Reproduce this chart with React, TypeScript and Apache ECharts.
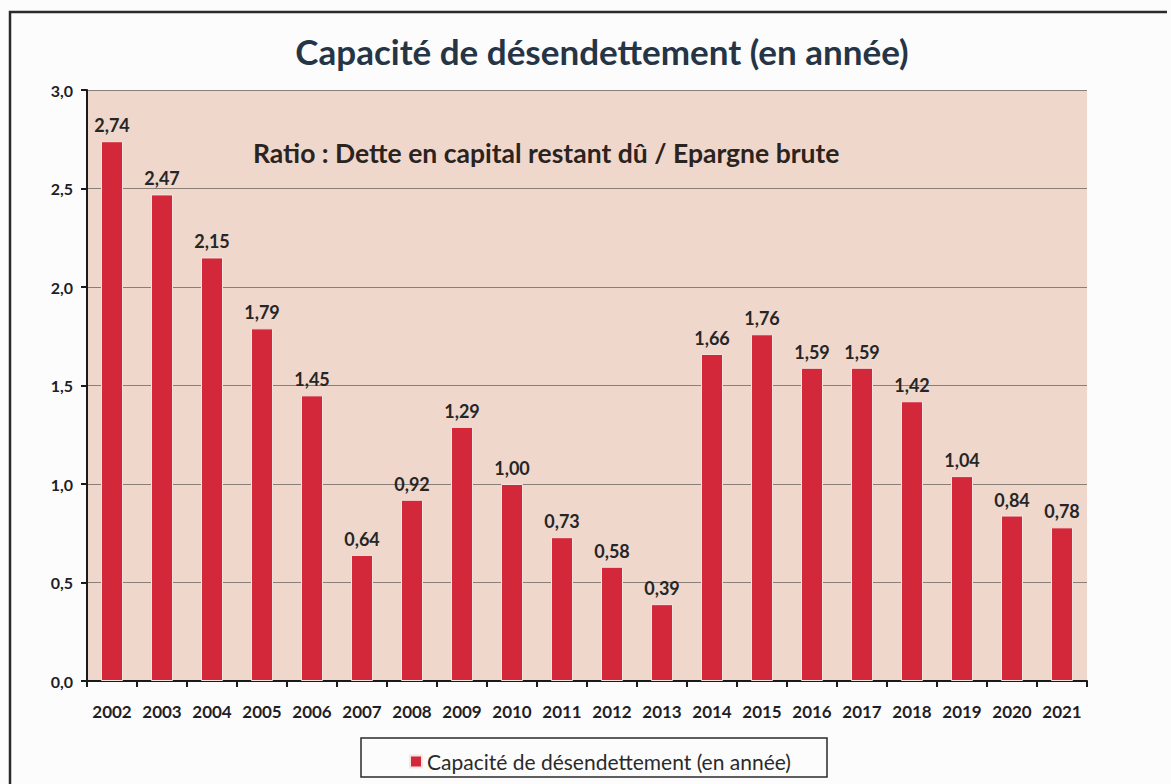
import React, { useEffect, useRef } from "react";
import * as echarts from "echarts";

const years = ["2002","2003","2004","2005","2006","2007","2008","2009","2010","2011","2012","2013","2014","2015","2016","2017","2018","2019","2020","2021"];
const ratios = [2.74, 2.47, 2.15, 1.79, 1.45, 0.64, 0.92, 1.29, 1.0, 0.73, 0.58, 0.39, 1.66, 1.76, 1.59, 1.59, 1.42, 1.04, 0.84, 0.78];
const seriesName = "Capacité de désendettement (en année)";
const titleText = "Capacité de désendettement (en année)";
const subtitleText = "Ratio : Dette en capital restant dû / Epargne brute";

const FONT = "Lato, 'Open Sans', sans-serif";

export default function App() {
  const ref = useRef<HTMLDivElement>(null);
  useEffect(() => {
    const chart = echarts.init(ref.current!, null, { renderer: "svg" });
    chart.setOption({
      animation: false,
      backgroundColor: "#fcfcfd",
      textStyle: { fontFamily: FONT },
      title: {
        text: titleText,
        left: 597,
        top: 28,
        textAlign: "center",
        textStyle: { fontFamily: FONT, fontSize: 35, fontWeight: "bold", color: "#263545" },
      },
      grid: {
        left: 87,
        right: 84,
        top: 90,
        bottom: 103,
        show: true,
        backgroundColor: "#efd7cc",
        borderWidth: 0,
      },
      legend: {
        data: [seriesName],
        left: 404,
        top: 746,
        icon: "rect",
        itemWidth: 12,
        itemHeight: 12,
        itemGap: 6,
        textStyle: { fontFamily: FONT, fontSize: 21, color: "#2a2a2a" },
      },
      xAxis: {
        type: "category",
        data: years,
        axisLine: { show: true, lineStyle: { color: "#1a1a1a", width: 2 } },
        axisTick: { show: true, length: 6, lineStyle: { color: "#1a1a1a", width: 2 } },
        axisLabel: {
          margin: 22,
          fontFamily: FONT,
          fontSize: 17,
          fontWeight: "bold",
          color: "#1e1e28",
          interval: 0,
        },
      },
      yAxis: {
        type: "value",
        min: 0,
        max: 3,
        interval: 0.5,
        axisLine: { show: true, lineStyle: { color: "#1a1a1a", width: 2 } },
        axisTick: { show: true, length: 6, lineStyle: { color: "#1a1a1a", width: 2 } },
        axisLabel: {
          margin: 14,
          fontFamily: FONT,
          fontSize: 16,
          fontWeight: "bold",
          color: "#1e1e28",
          formatter: (v: number) => v.toFixed(1).replace(".", ","),
        },
        splitLine: { show: true, lineStyle: { color: "#8a7e78", width: 1 } },
      },
      series: [
        {
          name: seriesName,
          type: "bar",
          data: ratios,
          barWidth: 22,
          itemStyle: { color: "#d3283a", borderColor: "#f6e4e0", borderWidth: 1 },
          label: {
            show: true,
            position: "top",
            distance: 7,
            fontFamily: FONT,
            fontSize: 18,
            fontWeight: "bold",
            color: "#262626",
            formatter: (p: any) => Number(p.value).toFixed(2).replace(".", ","),
          },
        },
      ],
      graphic: [
        {
          type: "polyline",
          shape: { points: [[10, 790], [10, 12], [1167, 12]] },
          style: { stroke: "#2a2a2a", lineWidth: 2.5, fill: "none" },
          z: 10,
        },
        {
          type: "text",
          left: 253,
          top: 139,
          style: {
            text: subtitleText,
            fontFamily: FONT,
            fontSize: 26.5,
            fontWeight: "bold",
            fill: "#2b231e",
          },
          z: 10,
        },
        {
          type: "rect",
          shape: { x: 361, y: 738, width: 466, height: 39 },
          style: { fill: "none", stroke: "#2a2a2a", lineWidth: 1.5 },
          z: 0,
        },
      ],
    });
    return () => chart.dispose();
  }, []);
  return (
    <div
      ref={ref}
      style={{ position: "absolute", left: 0, top: 0, width: 1171, height: 784 }}
    />
  );
}
